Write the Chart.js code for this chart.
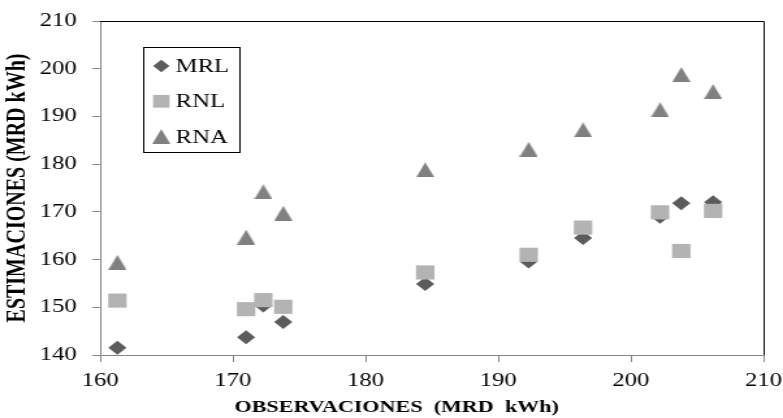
<!DOCTYPE html>
<html>
<head>
<meta charset="utf-8">
<script src="https://cdn.jsdelivr.net/npm/chart.js@4.4.1/dist/chart.umd.min.js"></script>
<style>
  html, body { margin: 0; padding: 0; background: #fff; overflow: hidden; }
  /* chart is drawn narrow and stretched sideways, like the original figure */
  #wrap { width: 602px; height: 418px; transform: scaleX(1.3007); transform-origin: 0 0; }
</style>
</head>
<body>
<div id="wrap"><canvas id="chart"></canvas></div>
<script>
// Observed values (x) and the three model estimates (y)
const observaciones = [161.3, 171.0, 172.3, 173.8, 184.5, 192.3, 196.4, 202.2, 203.8, 206.2];
const mrl = [141.5, 143.7, 150.4, 146.9, 154.9, 159.6, 164.5, 169.0, 171.8, 172.0];
const rnl = [151.4, 149.6, 151.5, 150.1, 157.3, 161.0, 166.7, 169.9, 161.8, 170.2];
const rna = [159.4, 164.7, 174.2, 169.7, 178.8, 183.1, 187.2, 191.4, 198.8, 195.2];

const seriesNames = ['MRL', 'RNL', 'RNA'];
const xTitle = 'OBSERVACIONES  (MRD  kWh)';
const yTitle = 'ESTIMACIONES (MRD kWh)';

const axisGray = '#868686';
const serif = '"Liberation Serif", "Times New Roman", serif';

function toPoints(ys) {
    return ys.map((y, i) => ({ x: observaciones[i], y: y }));
}

// triangle marker, a bit taller than the built-in one
function triangleMarker(w, h, color) {
    const c = document.createElement('canvas');
    c.width = w;
    c.height = h;
    const g = c.getContext('2d');
    g.fillStyle = color;
    g.beginPath();
    g.moveTo(w / 2, 0);
    g.lineTo(w, h);
    g.lineTo(0, h);
    g.closePath();
    g.fill();
    return c;
}

// frame, x axis title (sits a little left of centre) and the boxed legend
const boxLegend = {
    id: 'boxLegend',
    afterDraw(chart) {
        const ctx = chart.ctx;
        const area = chart.chartArea;
        ctx.save();
        // black frame on top and right
        ctx.strokeStyle = '#000';
        ctx.lineWidth = 1;
        ctx.beginPath();
        ctx.moveTo(area.left, area.top + 0.5);
        ctx.lineTo(area.right + 0.5, area.top + 0.5);
        ctx.lineTo(area.right + 0.5, area.bottom);
        ctx.stroke();

        // x axis title
        ctx.fillStyle = '#000';
        ctx.font = 'bold 17px ' + serif;
        ctx.textAlign = 'center';
        ctx.textBaseline = 'middle';
        ctx.fillText(xTitle, 305, 408);

        ctx.strokeRect(110.5, 47.5, 74, 105);
        ctx.font = '19px ' + serif;
        ctx.textAlign = 'left';
        chart.data.datasets.forEach((ds, i) => {
            const y = 66 + i * 35.3;
            ctx.fillStyle = ds.backgroundColor;
            Chart.helpers.drawPoint(ctx, {
                pointStyle: ds.pointStyle,
                radius: ds.pointRadius * 0.9,
                rotation: 0,
                borderWidth: 0
            }, 124, y);
            ctx.fillStyle = '#000';
            ctx.fillText(ds.label, 135, y + 1);
        });
        ctx.restore();
    }
};

const ctx = document.getElementById('chart');
new Chart(ctx, {
    type: 'scatter',
    data: {
        datasets: [
            {
                label: seriesNames[0],
                data: toPoints(mrl),
                backgroundColor: '#5c5c5c',
                pointStyle: 'rectRot',
                pointRadius: 7,
                pointBorderWidth: 0,
                order: 3
            },
            {
                label: seriesNames[1],
                data: toPoints(rnl),
                backgroundColor: '#b3b3b3',
                pointStyle: 'rect',
                pointRadius: 10,
                pointBorderWidth: 0,
                order: 2
            },
            {
                label: seriesNames[2],
                data: toPoints(rna),
                backgroundColor: '#808080',
                pointStyle: triangleMarker(14, 15, '#808080'),
                pointRadius: 8,
                pointBorderWidth: 0,
                order: 1
            }
        ]
    },
    options: {
        responsive: true,
        maintainAspectRatio: false,
        animation: false,
        layout: { padding: { top: 21, right: 15, left: 0, bottom: 0 } },
        plugins: {
            legend: { display: false },
            tooltip: { enabled: false }
        },
        scales: {
            x: {
                type: 'linear',
                min: 160,
                max: 210,
                ticks: { stepSize: 10, color: '#000', padding: 8, font: { family: serif, size: 19 } },
                grid: { drawOnChartArea: false, drawTicks: true, tickLength: 7, tickColor: axisGray },
                border: { color: axisGray, width: 1 },
                afterFit(scale) {
                    scale.height = 63;
                    scale.paddingLeft = 0;
                    scale.paddingRight = 0;
                }
            },
            y: {
                type: 'linear',
                min: 140,
                max: 210,
                ticks: { stepSize: 10, color: '#000', padding: 12, font: { family: serif, size: 19 } },
                grid: { drawOnChartArea: false, drawTicks: true, tickLength: 6, tickColor: axisGray },
                border: { color: axisGray, width: 1 },
                title: {
                    display: true,
                    text: yTitle,
                    color: '#000',
                    padding: { top: 2 },
                    font: { family: serif, size: 20, weight: 'bold', lineHeight: 1.2 }
                },
                afterFit(scale) {
                    scale.width = 77;
                    scale.paddingTop = 0;
                    scale.paddingBottom = 0;
                }
            }
        }
    },
    plugins: [boxLegend]
});
</script>
</body>
</html>
